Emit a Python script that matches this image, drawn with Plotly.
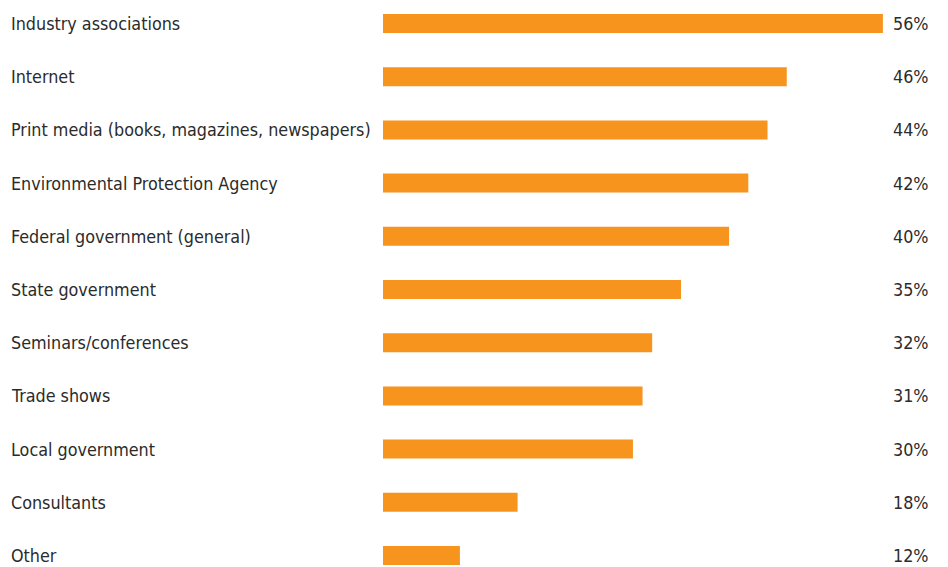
import plotly.graph_objects as go

categories = [
    "Industry associations",
    "Internet",
    "Print media (books, magazines, newspapers)",
    "Environmental Protection Agency",
    "Federal government (general)",
    "State government",
    "Seminars/conferences",
    "Trade shows",
    "Local government",
    "Consultants",
    "Other",
]
values = [56, 46, 44, 42, 40, 35, 32, 31, 30, 18, 12]

BAR_COLOR = "#F7941D"
TEXT_COLOR = "#2b2b2b"
FONT = "Liberation Sans Narrow, Arial Narrow, DejaVu Sans Condensed, sans-serif"

W, H = 948, 567
ML, MR = 383, 18

fig = go.Figure(
    go.Bar(
        x=values,
        y=categories,
        orientation="h",
        marker=dict(color=BAR_COLOR, line=dict(width=0)),
        width=0.357,
        hoverinfo="skip",
    )
)

annotations = []
plot_w = W - ML - MR
label_x = -(ML - 9) / plot_w
value_x = 1 + 1 / plot_w
for cat, val in zip(categories, values):
    annotations.append(dict(
        x=label_x, xref="paper", y=cat, yref="y",
        text=cat, showarrow=False, xanchor="left", yanchor="middle",
        font=dict(family=FONT, size=17.8, color=TEXT_COLOR),
    ))
    annotations.append(dict(
        x=value_x, xref="paper", y=cat, yref="y",
        text=f"{val}%", showarrow=False, xanchor="right", yanchor="middle",
        font=dict(family=FONT, size=17.8, color=TEXT_COLOR),
    ))

fig.update_layout(
    width=W, height=H,
    margin=dict(l=ML, r=MR, t=0, b=0, pad=0),
    paper_bgcolor="white", plot_bgcolor="white",
    showlegend=False,
    xaxis=dict(range=[4, 60.9], visible=False, fixedrange=True),
    yaxis=dict(
        type="category", categoryorder="array", categoryarray=categories,
        range=[10.216, -0.442], visible=False, fixedrange=True,
    ),
    annotations=annotations,
)

fig.write_html("out.html", config={"displayModeBar": False})
